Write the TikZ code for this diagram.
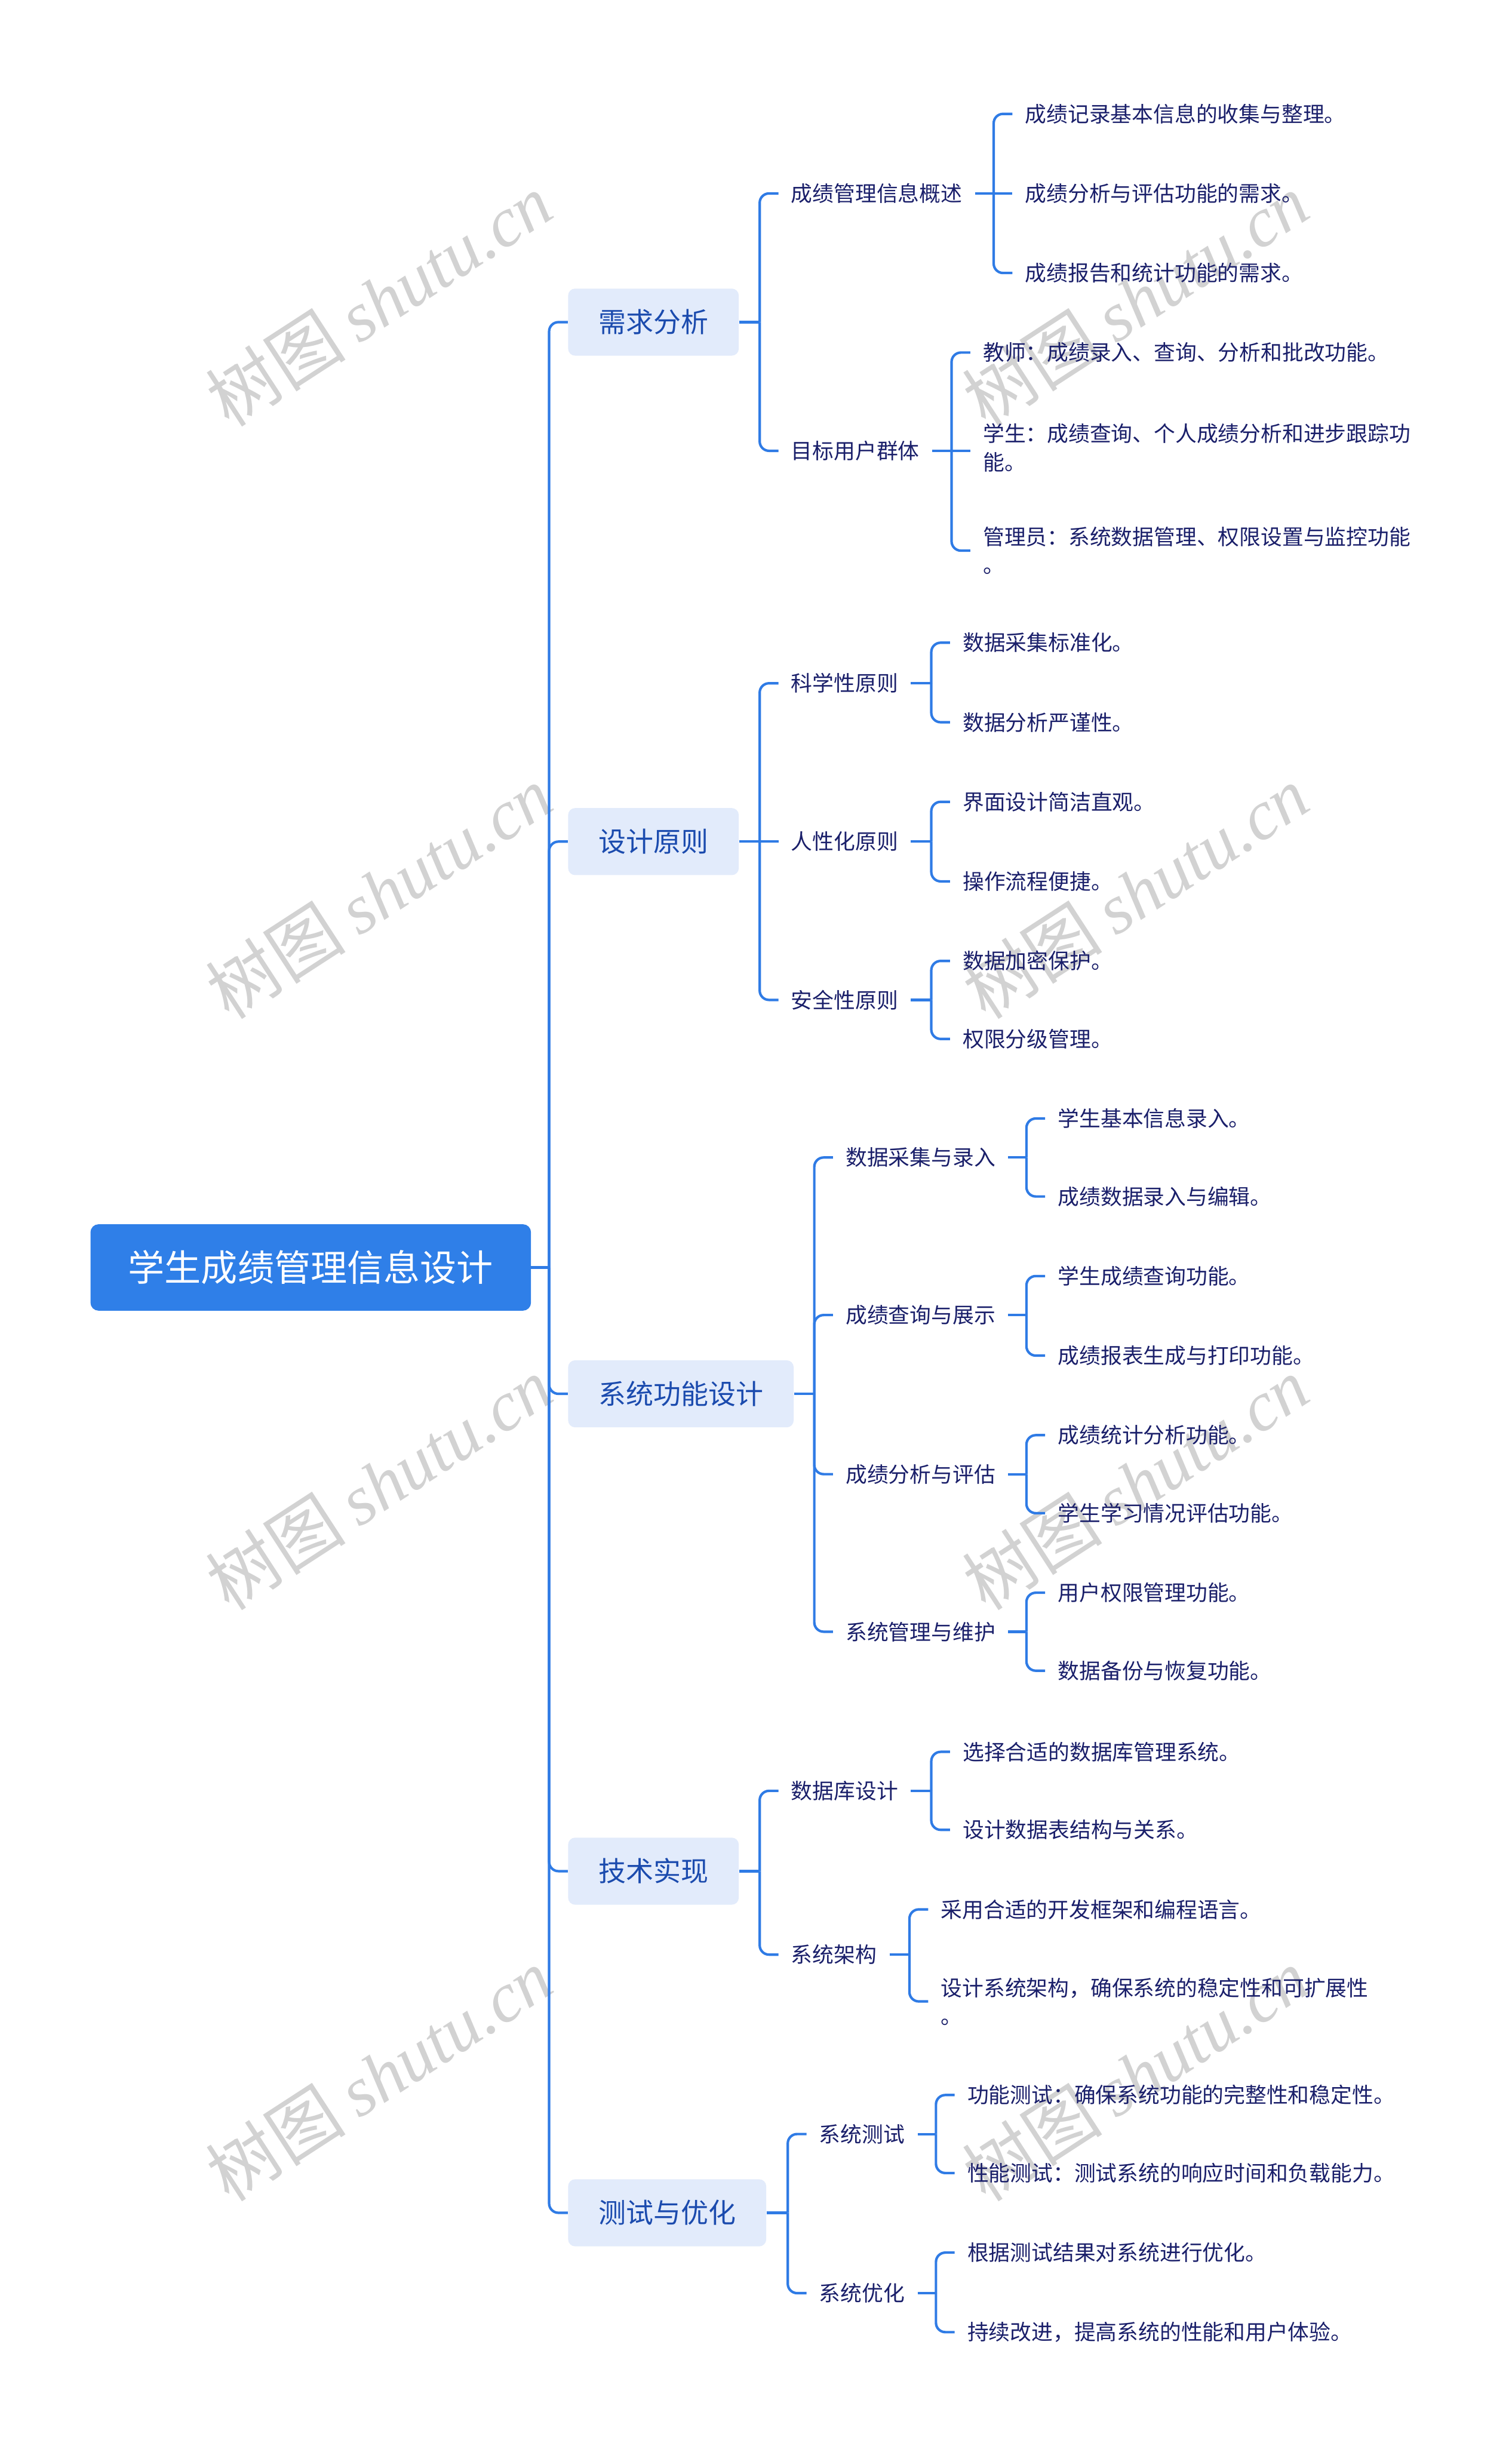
\documentclass[tikz,border=0pt]{standalone}
\usepackage{fontspec}
\setmainfont{Noto Sans CJK SC}
\newfontfamily\wmserif{Liberation Serif}
\usetikzlibrary{calc}
\definecolor{lc}{HTML}{2F7BE5}
\definecolor{rootc}{HTML}{2F7FE8}
\definecolor{lonec}{HTML}{E2EBFB}
\definecolor{lonet}{HTML}{1B4BAE}
\definecolor{tc}{HTML}{1A1F6A}
\definecolor{wmc}{HTML}{D2D2D2}
\tikzset{
  conn/.style={draw=lc, line width=1.6pt, rounded corners=6pt},
  rootbox/.style={fill=rootc, draw=rootc, rounded corners=5pt, text=white, font=\fontsize{23.4}{28}\selectfont, minimum height=55pt, inner xsep=24pt, anchor=west},
  lonebox/.style={fill=lonec, rounded corners=4.5pt, text=lonet, font=\fontsize{17.6}{21}\selectfont, minimum height=43pt, inner xsep=19.5pt, anchor=west},
  leaf/.style={text=tc, font=\fontsize{13.7}{18}\selectfont, inner xsep=8pt, inner ysep=2pt, anchor=west, align=left},
  wm/.style={text=wmc, rotate=33, anchor=center, inner sep=0pt, font=\fontsize{45}{48}\selectfont}
}
\newcommand{\wmtext}{树图\hspace{0.2em}{\wmserif\itshape shutu.cn}}
\begin{document}
\begin{tikzpicture}[x=1pt,y=-1pt]
\useasboundingbox (0,0) rectangle (969,1568);
% watermarks
\foreach \wx in {243,728}{
  \foreach \wy in {192,572,951,1330}{
    \node[wm] (w\wx\wy) at (\wx,\wy) {\wmtext};
  }
}
% root
\node[rootbox] (root) at (58,812.5) {学生成绩管理信息设计};
\coordinate (J0) at (352,812.5);
% level 1
\node[lonebox] (A) at (364,206.5) {需求分析};
\node[lonebox] (B) at (364,539.5) {设计原则};
\node[lonebox] (C) at (364,893.5) {系统功能设计};
\node[lonebox] (D) at (364,1199.5) {技术实现};
\node[lonebox] (E) at (364,1418.5) {测试与优化};
\draw[conn] (root.east) -- (J0);
\foreach \n in {A,B,C,D,E}{ \draw[conn] (J0) |- (\n.west); }
% ---- A
\coordinate (JA) at (487,206.5);
\node[leaf] (A1) at (499,124) {成绩管理信息概述};
\node[leaf] (A2) at (499,289) {目标用户群体};
\draw[conn] (A.east) -- (JA);
\draw[conn] (JA) |- (A1.west);
\draw[conn] (JA) |- (A2.west);
\coordinate (JA1) at (637,124);
\node[leaf] (A11) at (649,73) {成绩记录基本信息的收集与整理。};
\node[leaf] (A12) at (649,124) {成绩分析与评估功能的需求。};
\node[leaf] (A13) at (649,175) {成绩报告和统计功能的需求。};
\draw[conn] (A1.east) -- (JA1);
\draw[conn] (JA1) |- (A11.west);
\draw[conn] (JA1) -- (A12.west);
\draw[conn] (JA1) |- (A13.west);
\coordinate (JA2) at (610,289);
\node[leaf] (A21) at (622,226) {教师：成绩录入、查询、分析和批改功能。};
\node[leaf] (A22) at (622,287) {学生：成绩查询、个人成绩分析和进步跟踪功\\能。};
\node[leaf] (A23) at (622,353) {管理员：系统数据管理、权限设置与监控功能\\。};
\draw[conn] (A2.east) -- (JA2);
\draw[conn] (JA2) |- (A21.west);
\draw[conn] (JA2) -- (A22.west |- JA2);
\draw[conn] (JA2) |- (A23.west);
% ---- B
\coordinate (JB) at (487,539.5);
\node[leaf] (B1) at (499,438) {科学性原则};
\node[leaf] (B2) at (499,539.5) {人性化原则};
\node[leaf] (B3) at (499,641) {安全性原则};
\draw[conn] (B.east) -- (JB);
\draw[conn] (JB) |- (B1.west);
\draw[conn] (JB) -- (B2.west);
\draw[conn] (JB) |- (B3.west);
\coordinate (JB1) at (597,438);
\node[leaf] (B11) at (609,412) {数据采集标准化。};
\node[leaf] (B12) at (609,463) {数据分析严谨性。};
\draw[conn] (B1.east) -- (JB1);
\draw[conn] (JB1) |- (B11.west);
\draw[conn] (JB1) |- (B12.west);
\coordinate (JB2) at (597,539.5);
\node[leaf] (B21) at (609,514) {界面设计简洁直观。};
\node[leaf] (B22) at (609,565) {操作流程便捷。};
\draw[conn] (B2.east) -- (JB2);
\draw[conn] (JB2) |- (B21.west);
\draw[conn] (JB2) |- (B22.west);
\coordinate (JB3) at (597,641);
\node[leaf] (B31) at (609,616) {数据加密保护。};
\node[leaf] (B32) at (609,666) {权限分级管理。};
\draw[conn] (B3.east) -- (JB3);
\draw[conn] (JB3) |- (B31.west);
\draw[conn] (JB3) |- (B32.west);
% ---- C
\coordinate (JC) at (522,893.5);
\node[leaf] (C1) at (534,742) {数据采集与录入};
\node[leaf] (C2) at (534,843) {成绩查询与展示};
\node[leaf] (C3) at (534,945) {成绩分析与评估};
\node[leaf] (C4) at (534,1046) {系统管理与维护};
\draw[conn] (C.east) -- (JC);
\foreach \n in {C1,C2,C3,C4}{ \draw[conn] (JC) |- (\n.west); }
\coordinate (JC1) at (658,742);
\node[leaf] (C11) at (670,717) {学生基本信息录入。};
\node[leaf] (C12) at (670,767) {成绩数据录入与编辑。};
\coordinate (JC2) at (658,843);
\node[leaf] (C21) at (670,818) {学生成绩查询功能。};
\node[leaf] (C22) at (670,869) {成绩报表生成与打印功能。};
\coordinate (JC3) at (658,945);
\node[leaf] (C31) at (670,920) {成绩统计分析功能。};
\node[leaf] (C32) at (670,970) {学生学习情况评估功能。};
\coordinate (JC4) at (658,1046);
\node[leaf] (C41) at (670,1021) {用户权限管理功能。};
\node[leaf] (C42) at (670,1071) {数据备份与恢复功能。};
\foreach \i in {1,2,3,4}{
  \draw[conn] (C\i.east) -- (JC\i);
  \draw[conn] (JC\i) |- (C\i1.west);
  \draw[conn] (JC\i) |- (C\i2.west);
}
% ---- D
\coordinate (JD) at (487,1199.5);
\node[leaf] (D1) at (499,1148) {数据库设计};
\node[leaf] (D2) at (499,1253) {系统架构};
\draw[conn] (D.east) -- (JD);
\draw[conn] (JD) |- (D1.west);
\draw[conn] (JD) |- (D2.west);
\coordinate (JD1) at (597,1148);
\node[leaf] (D11) at (609,1123) {选择合适的数据库管理系统。};
\node[leaf] (D12) at (609,1173) {设计数据表结构与关系。};
\draw[conn] (D1.east) -- (JD1);
\draw[conn] (JD1) |- (D11.west);
\draw[conn] (JD1) |- (D12.west);
\coordinate (JD2) at (583,1253);
\node[leaf] (D21) at (595,1224) {采用合适的开发框架和编程语言。};
\node[leaf] (D22) at (595,1283) {设计系统架构，确保系统的稳定性和可扩展性\\。};
\draw[conn] (D2.east) -- (JD2);
\draw[conn] (JD2) |- (D21.west);
\draw[conn] (JD2) |- (D22.west);
% ---- E
\coordinate (JE) at (505,1418.5);
\node[leaf] (E1) at (517,1368) {系统测试};
\node[leaf] (E2) at (517,1470) {系统优化};
\draw[conn] (E.east) -- (JE);
\draw[conn] (JE) |- (E1.west);
\draw[conn] (JE) |- (E2.west);
\coordinate (JE1) at (600,1368);
\node[leaf] (E11) at (612,1343) {功能测试：确保系统功能的完整性和稳定性。};
\node[leaf] (E12) at (612,1393) {性能测试：测试系统的响应时间和负载能力。};
\draw[conn] (E1.east) -- (JE1);
\draw[conn] (JE1) |- (E11.west);
\draw[conn] (JE1) |- (E12.west);
\coordinate (JE2) at (600,1470);
\node[leaf] (E21) at (612,1444) {根据测试结果对系统进行优化。};
\node[leaf] (E22) at (612,1495) {持续改进，提高系统的性能和用户体验。};
\draw[conn] (E2.east) -- (JE2);
\draw[conn] (JE2) |- (E21.west);
\draw[conn] (JE2) |- (E22.west);
\end{tikzpicture}
\end{document}
